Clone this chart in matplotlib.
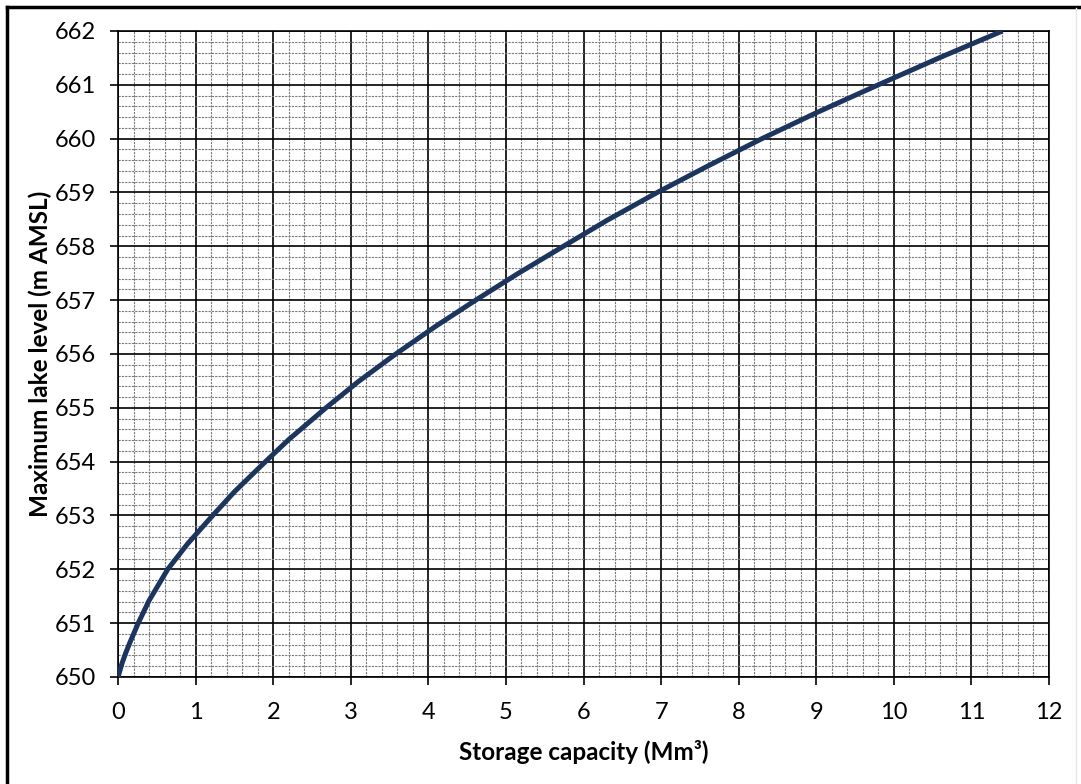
import matplotlib.pyplot as plt
from matplotlib.ticker import MultipleLocator
from matplotlib.lines import Line2D

# storage capacity (Mm3) vs maximum lake level (m AMSL)
storage = [0, 0.05, 0.1, 0.15, 0.26, 0.4, 0.64, 0.9, 1.22, 1.5, 1.9, 2.2,
           2.68, 3.1, 3.58, 4.1, 4.61, 5.15, 5.74, 6.3, 6.95, 7.6, 8.3, 9.0,
           9.8, 10.6, 11.4]
level = [650, 650.25, 650.45, 650.63, 651.0, 651.42, 652.0, 652.48, 653.0,
         653.44, 654.0, 654.41, 655.0, 655.49, 656.0, 656.52, 657.0, 657.49,
         658.0, 658.48, 659.0, 659.49, 660.0, 660.48, 661.0, 661.51, 662.0]

plt.rcParams['font.family'] = ['Lato', 'DejaVu Sans']

fig = plt.figure(figsize=(10.81, 7.84), dpi=100)
ax = fig.add_axes([0.1092, 0.1365, 0.8612, 0.824])

ax.plot(storage, level, color='#1c355e', lw=3.6, solid_capstyle='butt',
        solid_joinstyle='round', zorder=5)

ax.set_xlim(0, 12)
ax.set_ylim(650, 662)
ax.xaxis.set_major_locator(MultipleLocator(1))
ax.yaxis.set_major_locator(MultipleLocator(1))
ax.xaxis.set_minor_locator(MultipleLocator(0.2))
ax.yaxis.set_minor_locator(MultipleLocator(0.2))

ax.grid(which='minor', color='#7a7a7a', lw=0.8, ls=(0, (2, 1)))
ax.grid(which='major', color='black', lw=1.2)
ax.set_axisbelow(True)

ax.tick_params(which='major', direction='out', length=6, width=1.2,
               labelsize=17, pad=12)
ax.tick_params(axis='y', pad=10)
ax.tick_params(which='minor', length=0)
for s in ax.spines.values():
    s.set_linewidth(1.2)

ax.set_xlabel('Storage capacity (Mm³)', fontsize=17.5, fontweight='bold', labelpad=12)
ax.set_ylabel('Maximum lake level (m AMSL)', fontsize=17.5, fontweight='bold', labelpad=2)

# outer frame (left and top edges visible in the original)
fig.add_artist(Line2D([0.0065, 0.0065], [0, 0.991], transform=fig.transFigure, color='black', lw=2.5))
fig.add_artist(Line2D([0.0065, 1.0], [0.991, 0.991], transform=fig.transFigure, color='black', lw=2.5))
fig.add_artist(Line2D([0.9955, 0.9955], [0, 0.99], transform=fig.transFigure, color='#e6e6e6', lw=1))

fig.savefig('out.png', dpi=100)
